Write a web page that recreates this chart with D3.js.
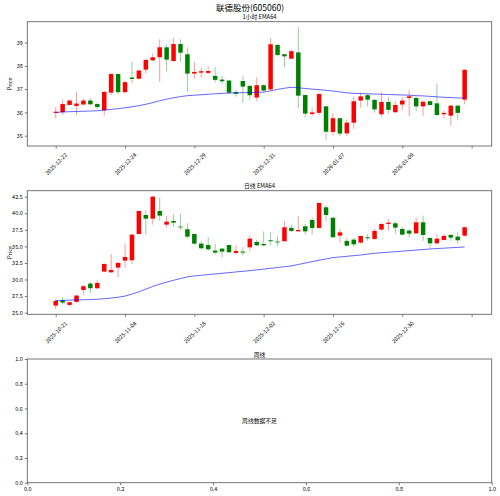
<!DOCTYPE html>
<html>
<head>
<meta charset="utf-8">
<script src="https://cdn.jsdelivr.net/npm/d3@7"></script>
<style>
  body { margin: 0; background: #fff; }
  text { font-family: "Noto Sans CJK SC", "DejaVu Sans", sans-serif; fill: #000; }
</style>
</head>
<body>
<div id="viz"></div>
<script>
// 1小时 K线 (60 根)
const hourOpen  = [35.98,36.01,36.32,36.28,36.34,36.51,36.36,36.09,36.85,37.65,
                   36.87,37.50,37.45,37.84,38.24,38.37,38.80,38.21,38.94,38.50,
                   37.67,37.71,37.70,37.57,37.41,37.37,36.87,37.35,37.14,36.64,
                   37.17,36.99,38.90,38.50,38.31,38.58,36.75,35.93,35.98,36.26,
                   35.16,35.75,35.10,35.56,36.51,36.74,36.54,35.92,36.45,36.01,
                   36.34,36.62,36.62,36.26,36.48,36.39,35.92,35.86,36.29,36.55];
const hourHigh  = [36.22,36.56,36.54,36.88,36.58,36.62,36.41,36.92,37.68,37.68,
                   37.35,38.17,37.83,38.28,38.54,39.14,38.91,39.19,39.14,38.80,
                   38.17,37.93,37.98,37.94,37.57,37.40,36.99,37.57,37.18,37.51,
                   37.20,39.20,38.94,38.53,38.71,39.66,36.75,36.22,36.82,36.26,
                   35.96,35.79,35.70,36.68,36.85,36.79,36.56,36.87,36.66,36.48,
                   36.65,36.95,36.68,36.49,36.52,37.24,36.08,36.34,36.32,37.87];
const hourLow   = [35.75,35.90,36.31,35.89,36.31,36.31,36.13,35.86,36.74,36.79,
                   36.82,37.25,37.41,37.68,38.21,37.32,37.77,38.17,38.17,36.88,
                   37.45,37.50,37.64,37.30,37.21,36.81,36.68,36.42,36.54,36.49,
                   36.89,36.95,38.40,37.94,38.28,36.18,35.78,35.85,35.88,34.82,
                   35.02,34.99,34.99,35.30,36.20,36.26,35.99,35.82,35.93,35.96,
                   36.11,35.82,36.06,35.86,36.29,35.85,35.75,35.43,35.68,36.35];
const hourClose = [36.03,36.36,36.51,36.38,36.51,36.35,36.23,36.88,37.65,36.87,
                   37.30,37.44,37.80,38.26,38.37,38.80,38.27,38.94,38.57,37.67,
                   37.74,37.77,37.78,37.40,37.34,36.85,36.80,37.11,36.74,37.17,
                   36.94,38.93,38.47,38.41,38.63,36.72,35.95,36.00,36.79,35.17,
                   35.75,35.09,35.56,36.48,36.69,36.55,36.13,36.45,36.11,36.32,
                   36.51,36.69,36.26,36.46,36.32,35.89,35.98,36.29,35.98,37.83];
const hourEma   = [36.00,36.02,36.03,36.04,36.05,36.06,36.07,36.10,36.13,36.16,
                   36.20,36.24,36.29,36.35,36.42,36.50,36.57,36.63,36.68,36.72,
                   36.74,36.76,36.78,36.80,36.82,36.83,36.84,36.85,36.86,36.86,
                   36.87,36.93,36.99,37.04,37.08,37.06,37.03,37.00,36.98,36.95,
                   36.92,36.88,36.84,36.82,36.81,36.80,36.79,36.78,36.77,36.76,
                   36.75,36.74,36.72,36.71,36.69,36.67,36.65,36.64,36.62,36.62];
const hourTicks      = [0, 10, 20, 30, 40, 50, 60];
const hourTickLabels = ["2025-12-22","2025-12-24","2025-12-29","2025-12-31","2026-01-07","2026-01-09",""];
const hourYTicks     = [35, 36, 37, 38, 39];

// 日线 K线 (60 根)
const dayOpen  = [26.07,26.87,26.17,26.62,28.43,29.38,28.68,31.19,31.09,31.80,
                  32.85,32.90,36.87,39.74,39.18,40.34,38.28,38.83,37.98,37.58,
                  36.87,35.41,35.21,34.36,34.66,35.21,34.01,34.21,34.86,35.67,
                  35.36,35.92,35.72,35.77,37.78,37.27,38.03,38.98,37.78,40.90,
                  39.33,36.62,35.82,36.02,35.57,36.37,36.12,37.53,38.38,38.48,
                  37.63,37.38,36.97,38.63,36.27,35.46,35.97,36.72,36.47,36.62];
const dayHigh  = [27.02,27.37,26.67,27.68,29.18,29.64,29.94,32.40,33.86,32.70,
                  35.46,36.77,40.34,40.44,42.60,42.35,39.59,39.84,39.89,38.48,
                  36.87,35.77,36.42,35.36,34.66,35.21,35.16,34.86,36.62,36.02,
                  37.27,37.12,36.52,38.83,38.28,39.59,38.38,39.33,41.55,41.20,
                  39.33,37.63,36.22,36.27,36.57,36.82,37.63,38.48,39.13,38.78,
                  37.98,37.63,39.33,39.64,36.27,36.82,36.82,36.87,37.17,37.98];
const dayLow   = [25.52,26.27,26.02,26.52,27.73,27.98,28.53,31.15,31.00,30.29,
                  31.80,32.35,36.87,36.77,38.28,38.88,37.83,37.98,37.48,36.12,
                  35.26,34.56,34.31,33.81,33.35,34.01,33.81,33.61,34.31,35.01,
                  35.01,35.26,35.06,35.77,37.17,37.27,36.77,36.82,37.78,38.78,
                  36.37,35.57,34.96,34.91,35.41,35.87,36.02,37.38,37.38,36.97,
                  36.67,36.37,36.87,35.82,34.81,35.31,35.87,35.82,35.41,36.42];
const dayClose = [26.77,26.52,26.57,27.58,28.98,28.68,29.48,32.35,31.44,32.50,
                  33.40,36.77,40.34,39.18,42.50,39.64,38.73,38.58,37.88,36.47,
                  35.41,34.71,34.56,34.06,34.21,34.11,34.31,34.06,36.17,35.16,
                  35.16,35.77,35.62,37.88,37.33,37.48,37.27,37.78,41.55,39.74,
                  36.37,37.12,35.11,35.31,36.57,36.22,37.33,38.38,38.58,37.83,
                  36.77,36.92,38.63,36.72,35.46,36.17,36.57,36.32,35.92,37.88];
const dayEma   = [26.82,26.85,26.88,26.92,26.95,26.98,27.02,27.10,27.20,27.32,
                  27.50,27.80,28.15,28.55,28.95,29.30,29.60,29.88,30.15,30.40,
                  30.54,30.64,30.74,30.84,30.94,31.04,31.14,31.24,31.34,31.45,
                  31.57,31.69,31.81,31.93,32.05,32.27,32.48,32.70,32.90,33.10,
                  33.30,33.40,33.50,33.60,33.70,33.83,33.96,34.04,34.12,34.20,
                  34.28,34.36,34.44,34.52,34.61,34.67,34.73,34.79,34.85,34.91];
const dayTicks      = [0, 10, 20, 30, 40, 50, 60];
const dayTickLabels = ["2025-10-21","2025-11-04","2025-11-18","2025-12-02","2025-12-16","2025-12-30",""];
const dayYTicks     = [25, 27.5, 30, 32.5, 35, 37.5, 40, 42.5];

// 周线 (空图)
const weekTicks = [0, 0.2, 0.4, 0.6, 0.8, 1.0];

const W = 500, H = 496;
const left = 27.3, right = 491.7;
const svg = d3.select("#viz").append("svg")
  .attr("width", W).attr("height", H);

// 大标题
svg.append("text")
  .attr("x", 250).attr("y", 11)
  .attr("text-anchor", "middle")
  .attr("font-size", 8.5)
  .text("联德股份(605060)");

// 画一个坐标框 + 刻度
function frame(top, bottom, x, y, xTicks, xFmt, yTicks, yFmt, title, rotate) {
  const g = svg.append("g");

  const yAxis = g.append("g")
    .attr("transform", `translate(${left},0)`)
    .call(d3.axisLeft(y).tickValues(yTicks).tickFormat(yFmt).tickSize(2.5).tickPadding(2));
  const xAxis = g.append("g")
    .attr("transform", `translate(0,${bottom})`)
    .call(d3.axisBottom(x).tickValues(xTicks).tickFormat(xFmt).tickSize(2.5).tickPadding(2));

  [xAxis, yAxis].forEach(a => {
    a.select(".domain").remove();
    a.selectAll(".tick line").attr("stroke", "#555").attr("stroke-width", 0.8);
    a.selectAll(".tick text").attr("font-size", 5.5).attr("fill", "#222")
      .style("font-family", '"Noto Sans CJK SC", "DejaVu Sans", sans-serif');
  });

  if (rotate) {
    xAxis.selectAll(".tick text")
      .attr("text-anchor", "middle")
      .attr("dy", null)
      .attr("y", 0)
      .attr("dominant-baseline", "central")
      .attr("transform", "translate(0,18) rotate(-45)");
  }

  g.append("rect")
    .attr("x", left).attr("y", top)
    .attr("width", right - left).attr("height", bottom - top)
    .attr("fill", "none").attr("stroke", "#666").attr("stroke-width", 0.9);

  g.append("text")
    .attr("x", (left + right) / 2).attr("y", top - 2.5)
    .attr("text-anchor", "middle")
    .attr("font-size", 5.8)
    .text(title);
  return g;
}

// K线面板
function candles(top, bottom, yDomain, O, Hh, L, C, ema, xTicks, xLabels, yTicks, yFmt, title) {
  const x = d3.scaleLinear().domain([-4.1, 62.9]).range([left, right]);
  const y = d3.scaleLinear().domain(yDomain).range([bottom, top]);

  frame(top, bottom, x, y, xTicks, (d, i) => xLabels[i], yTicks, yFmt, title, true);

  const plot = svg.append("g");
  const bw = 0.65;
  const idx = d3.range(O.length);
  const col = i => C[i] >= O[i] ? "#ff0000" : "#008000";

  // 影线
  plot.selectAll(".wick").data(idx).enter().append("line")
    .attr("x1", i => x(i)).attr("x2", i => x(i))
    .attr("y1", i => y(Hh[i])).attr("y2", i => y(L[i]))
    .attr("stroke", col).attr("stroke-opacity", 0.4).attr("stroke-width", 1);

  // 实体
  plot.selectAll(".body").data(idx).enter().append("rect")
    .attr("x", i => x(i - bw / 2))
    .attr("width", x(bw) - x(0))
    .attr("y", i => y(Math.max(O[i], C[i])))
    .attr("height", i => Math.max(0.8, Math.abs(y(O[i]) - y(C[i]))))
    .attr("fill", col);

  // EMA64
  plot.append("path")
    .datum(idx)
    .attr("fill", "none")
    .attr("stroke", "#0000ff").attr("stroke-opacity", 0.6).attr("stroke-width", 1)
    .attr("d", d3.line().x(i => x(i)).y(i => y(ema[i])));

  // Price 标签
  svg.append("text")
    .attr("transform", `translate(12,${(top + bottom) / 2}) rotate(-90)`)
    .attr("text-anchor", "middle")
    .attr("font-size", 5.5)
    .text("Price");
}

candles(21.7, 146, [34.556, 39.90], hourOpen, hourHigh, hourLow, hourClose, hourEma,
        hourTicks, hourTickLabels, hourYTicks, d => d3.format("d")(d), "1小时 EMA64");

candles(190.7, 314.3, [24.75, 43.4], dayOpen, dayHigh, dayLow, dayClose, dayEma,
        dayTicks, dayTickLabels, dayYTicks, d => d3.format(".1f")(d), "日线 EMA64");

// 周线面板
const wx = d3.scaleLinear().domain([0, 1]).range([left, right]);
const wy = d3.scaleLinear().domain([0, 1]).range([482.7, 359]);
const wg = frame(359, 482.7, wx, wy, weekTicks, d3.format(".1f"), weekTicks, d3.format(".1f"), "周线", false);
wg.select("text:last-of-type");
svg.append("text")
  .attr("x", wx(0.5)).attr("y", wy(0.5))
  .attr("text-anchor", "middle")
  .attr("dominant-baseline", "central")
  .attr("font-size", 5.8)
  .text("周线数据不足");
</script>
</body>
</html>
